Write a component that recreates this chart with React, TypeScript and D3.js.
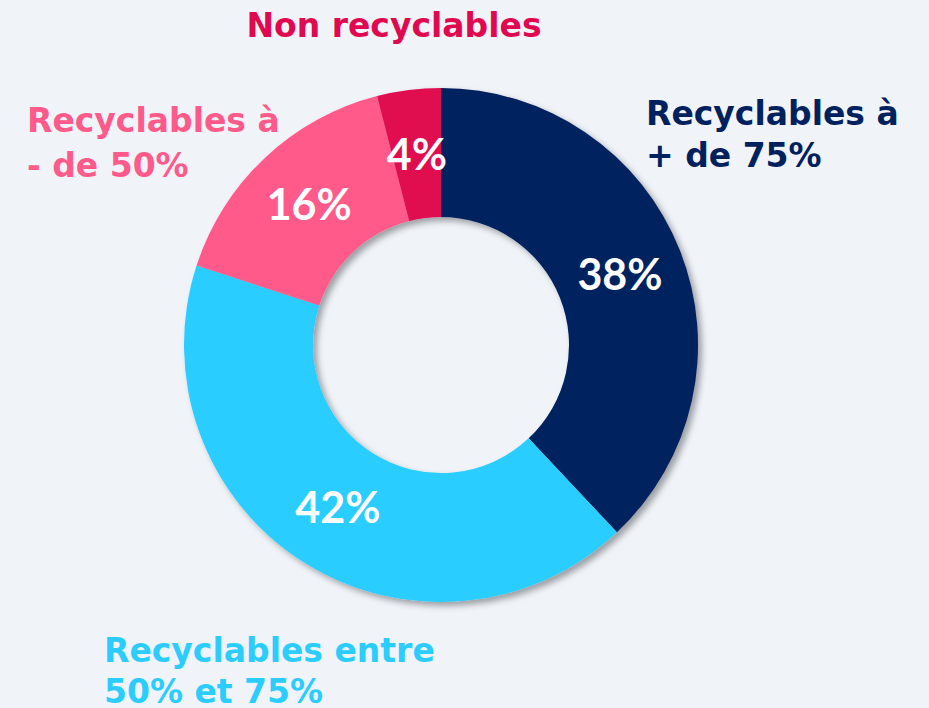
import React from "react";
import * as d3 from "d3";

const categories = ["Recyclables à + de 75%", "Recyclables entre 50% et 75%", "Recyclables à - de 50%", "Non recyclables"];
const values = [38, 42, 16, 4];
const colors = ["#00215E", "#2BCDFF", "#FF5A8A", "#E0094F"];
const labelLines = [["Recyclables à", "+ de 75%"], ["Recyclables entre", "50% et 75%"], ["Recyclables à", "- de 50%"], ["Non recyclables"]];

const W = 929, H = 708;
const cx = 441, cy = 345, R = 257, r0 = 128;
const LFONT = "'Century Gothic', 'DejaVu Sans', sans-serif";
const PFONT = "'Century Gothic', Lato, sans-serif";

const labelPos = [
  { x: 646, y: 125, anchor: "start", dy: 42 },
  { x: 104, y: 662, anchor: "start", dy: 41 },
  { x: 27, y: 132, anchor: "start", dy: 45 },
  { x: 394, y: 37, anchor: "middle", dy: 0 },
];

export default function App() {
  const pie = d3.pie<number>().value((d) => d).sort(null);
  const arcs = pie(values);
  const arc = d3.arc<d3.PieArcDatum<number>>().innerRadius(r0).outerRadius(R);
  const mid = d3.arc<d3.PieArcDatum<number>>().innerRadius((r0 + R) / 2).outerRadius((r0 + R) / 2);
  return (
    <svg width={W} height={H} style={{ position: "absolute", left: 0, top: 0, background: "#F0F4F9" }}>
      <defs>
        <filter id="sh" x="-20%" y="-20%" width="140%" height="140%">
          <feDropShadow dx="4" dy="4" stdDeviation="3" floodColor="#000" floodOpacity="0.35" />
        </filter>
      </defs>
      <rect width={W} height={H} fill="#F0F4F9" />
      <g transform={`translate(${cx},${cy})`} filter="url(#sh)">
        {arcs.map((a, i) => (
          <path key={i} d={arc(a) || ""} fill={colors[i]} />
        ))}
      </g>
      <g transform={`translate(${cx},${cy})`}>
        {arcs.map((a, i) => {
          const [x, y] = mid.centroid(a);
          return (
            <text key={i} x={x} y={y} dy="0.36em" textAnchor="middle" fill="#fff" fontFamily={PFONT} fontWeight="bold" fontSize={43}>
              {values[i]}%
            </text>
          );
        })}
      </g>
      {labelLines.map((lines, i) => (
        <text key={i} fill={colors[i]} fontFamily={LFONT} fontWeight="bold" fontSize={33} textAnchor={labelPos[i].anchor}>
          {lines.map((l, j) => (
            <tspan key={j} x={labelPos[i].x} y={labelPos[i].y + j * labelPos[i].dy}>{l}</tspan>
          ))}
        </text>
      ))}
    </svg>
  );
}
